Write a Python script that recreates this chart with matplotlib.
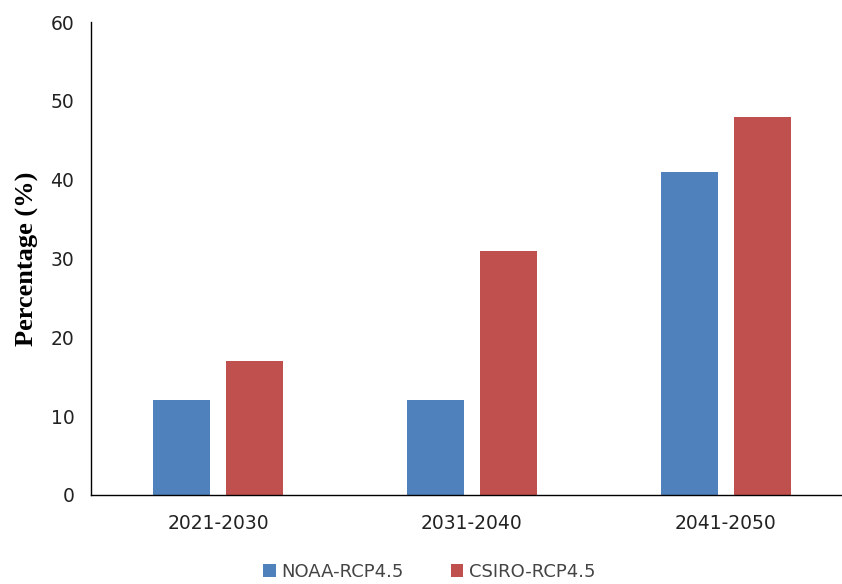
import numpy as np
import matplotlib
matplotlib.use("Agg")
import matplotlib.pyplot as plt

periods = ["2021-2030", "2031-2040", "2041-2050"]
noaa = [12, 12, 41]
csiro = [17, 31, 48]
series_names = ["NOAA-RCP4.5", "CSIRO-RCP4.5"]
yticks = [0, 10, 20, 30, 40, 50, 60]

BLUE = "#4F81BD"; RED = "#C0504D"

fig = plt.figure(figsize=(8.42, 5.84), dpi=100)
ax = fig.add_axes([91 / 842, 1 - 495 / 584, 1 - 91 / 842, (495 - 22) / 584])

x = np.arange(len(periods))
w = 0.226
ax.bar(x - 0.143, noaa, w, color=BLUE, label=series_names[0])
ax.bar(x + 0.143, csiro, w, color=RED, label=series_names[1])

ax.set_xlim(-0.5, 2.457)
ax.set_ylim(0, 60)
ax.set_yticks(yticks)
ax.set_xticks(x)
ax.set_xticklabels(periods)
ax.tick_params(length=0, labelsize=13.5, colors="#222", pad=12)
ax.tick_params(axis="x", pad=14)
for s in ("top", "right"):
    ax.spines[s].set_visible(False)
ax.spines["left"].set_linewidth(1.0)
ax.spines["bottom"].set_linewidth(1.0)
ax.set_ylabel("Percentage (%)", family="Liberation Serif", fontweight="bold", fontsize=19, labelpad=8)

fig.legend(loc="center", bbox_to_anchor=(0.51, 1 - 572 / 584), ncol=2, frameon=False,
           fontsize=13, handlelength=0.7, handleheight=0.7, handletextpad=0.3, columnspacing=2.6,
           labelcolor="#444")
fig.savefig("out.png", dpi=100)
